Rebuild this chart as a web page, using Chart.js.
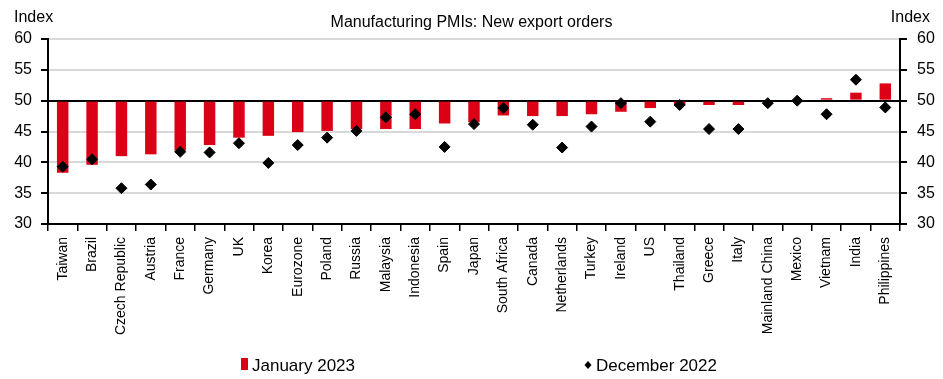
<!DOCTYPE html>
<html>
<head>
<meta charset="utf-8">
<script src="https://cdn.jsdelivr.net/npm/chart.js@4/dist/chart.umd.min.js"></script>
<style>
  html, body { margin: 0; padding: 0; background: #fff; }
  #wrap { position: relative; width: 943px; height: 379px; }
</style>
</head>
<body>
<div id="wrap"><canvas id="pmi-canvas" width="943" height="379"></canvas></div>
<script>
// ============================================================
// Manufacturing PMIs: New export orders — Jan 2023 vs Dec 2022
// ============================================================

const countries = [
    'Taiwan', 'Brazil', 'Czech Republic', 'Austria', 'France', 'Germany', 'UK',
    'Korea', 'Eurozone', 'Poland', 'Russia', 'Malaysia', 'Indonesia', 'Spain',
    'Japan', 'South Africa', 'Canada', 'Netherlands', 'Turkey', 'Ireland', 'US',
    'Thailand', 'Greece', 'Italy', 'Mainland China', 'Mexico', 'Vietnam', 'India',
    'Philippines'
];

// January 2023 readings (red bars, drawn from the 50 line)
const jan2023 = [
    38.3, 39.6, 41.0, 41.3, 41.9, 42.8, 44.0,
    44.3, 44.9, 45.1, 45.4, 45.4, 45.4, 46.3,
    46.5, 47.6, 47.5, 47.5, 47.8, 48.2, 48.8,
    49.2, 49.3, 49.3, 49.9, 50.2, 50.4, 51.3,
    52.8
];

// December 2022 readings (black diamonds)
const dec2022 = [
    39.3, 40.5, 35.8, 36.4, 41.7, 41.6, 43.1,
    39.9, 42.8, 44.0, 45.1, 47.3, 47.8, 42.5,
    46.2, 48.8, 46.1, 42.4, 45.8, 49.6, 46.6,
    49.3, 45.4, 45.4, 49.6, 50.0, 47.8, 53.4,
    48.9
];

const yTicks = [30, 35, 40, 45, 50, 55, 60];

const RED = '#dc0016';
const FONT = "'Liberation Sans', Arial, sans-serif";

// Extra text + legend drawn straight onto the canvas
const decorations = {
    id: 'decorations',
    afterDraw(chart) {
        const ctx = chart.ctx;
        ctx.save();
        ctx.fillStyle = '#000';
        ctx.textBaseline = 'middle';
        ctx.font = `16px ${FONT}`;
        ctx.textAlign = 'left';
        ctx.fillText('Index', 14, 18);
        ctx.textAlign = 'right';
        ctx.fillText('Index', 930, 18);

        // legend
        ctx.font = `17px ${FONT}`;
        ctx.textAlign = 'left';
        ctx.fillStyle = RED;
        ctx.fillRect(241, 358, 7, 12);
        ctx.fillStyle = '#000';
        ctx.fillText('January 2023', 252, 366);

        ctx.beginPath();
        ctx.moveTo(588, 361);
        ctx.lineTo(591.5, 365);
        ctx.lineTo(588, 369);
        ctx.lineTo(584.5, 365);
        ctx.closePath();
        ctx.fill();
        ctx.fillText('December 2022', 596, 366);
        ctx.restore();
    }
};

const yFont = { family: FONT, size: 16 };
const xFont = { family: FONT, size: 14 };

new Chart(document.getElementById('pmi-canvas'), {
    data: {
        labels: countries,
        datasets: [
            {
                type: 'line',
                label: 'December 2022',
                data: dec2022,
                showLine: false,
                pointStyle: 'rectRot',
                pointRadius: 5.5,
                pointBorderWidth: 1,
                pointBackgroundColor: '#000',
                pointBorderColor: '#000',
                order: 0
            },
            {
                type: 'bar',
                label: 'January 2023',
                data: jan2023,
                base: 50,
                backgroundColor: RED,
                categoryPercentage: 1,
                barPercentage: 0.39,
                order: 1
            }
        ]
    },
    options: {
        responsive: false,
        animation: false,
        layout: { padding: { left: 0, right: 0, top: 0, bottom: 0 } },
        plugins: {
            legend: { display: false },
            tooltip: { enabled: false },
            title: {
                display: true,
                text: 'Manufacturing PMIs: New export orders',
                color: '#000',
                font: { family: FONT, size: 16, weight: 'normal', lineHeight: 1.2 },
                padding: { top: 13, bottom: 6.8 }
            }
        },
        scales: {
            x: {
                grid: { offset: true, drawOnChartArea: false, color: '#000', lineWidth: 1.5, tickLength: 7 },
                border: { color: '#000', width: 2 },
                ticks: {
                    color: '#000', font: xFont, autoSkip: false,
                    minRotation: 90, maxRotation: 90, padding: 6
                },
                afterFit: s => { s.height = 155; }
            },
            y: {
                position: 'left',
                min: 30, max: 60,
                afterBuildTicks: s => { s.ticks = yTicks.map(v => ({ value: v })); },
                grid: {
                    color: c => (c.tick && c.tick.value === 50 ? '#000' : '#d9d9d9'),
                    lineWidth: 2,
                    tickColor: '#000',
                    tickLength: 7
                },
                border: { color: '#000', width: 2 },
                ticks: { color: '#000', font: yFont, padding: 9 },
                afterFit: s => { s.width = 48; }
            },
            y2: {
                position: 'right',
                min: 30, max: 60,
                afterBuildTicks: s => { s.ticks = yTicks.map(v => ({ value: v })); },
                grid: { drawOnChartArea: false, color: '#000', tickLength: 7, lineWidth: 2 },
                border: { color: '#000', width: 2 },
                ticks: { color: '#000', font: yFont, padding: 10 },
                afterFit: s => { s.width = 43; }
            }
        }
    },
    plugins: [decorations]
});
</script>
</body>
</html>
